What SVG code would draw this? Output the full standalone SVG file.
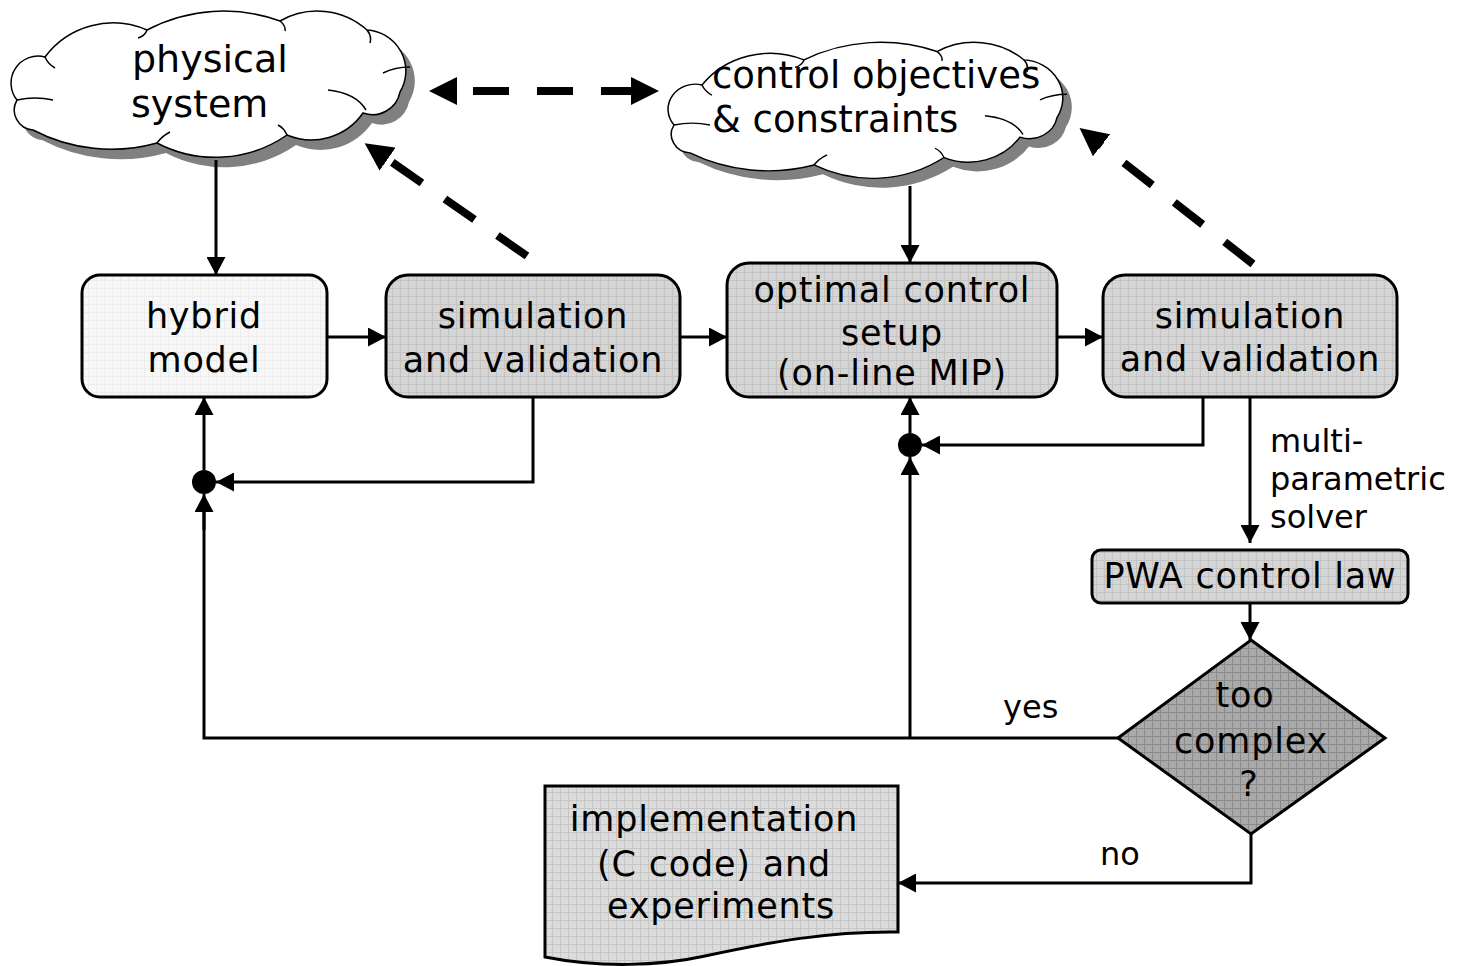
<svg xmlns="http://www.w3.org/2000/svg" xmlns:xlink="http://www.w3.org/1999/xlink" width="1464" height="966" viewBox="0 0 1464 966">
<style>
.t{font-family:"DejaVu Sans","Liberation Sans",sans-serif;fill:#000;}
.bt{font-size:35px;text-anchor:middle;letter-spacing:0.8px;}
.ct{font-size:37px;}
.lt{font-size:32px;}
.box{stroke:#000;stroke-width:3;}
.ln{fill:none;stroke:#000;stroke-width:3;}
.arr{marker-end:url(#ah);}
.dash{fill:none;stroke:#000;stroke-width:8;stroke-dasharray:36 28;marker-end:url(#dh);}
.cl{fill:#fff;stroke:#000;stroke-width:1.5;}
.cs{fill:#808080;}
.ci{fill:none;stroke:#000;stroke-width:1.5;}
</style>
<defs>
<pattern id="gL" width="8" height="8" patternUnits="userSpaceOnUse"><rect width="8" height="8" fill="#d5d5d5"/><path d="M0 0.5H8M0.5 0V8" stroke="#c3c3c3" stroke-width="1"/></pattern>
<pattern id="gH" width="8" height="8" patternUnits="userSpaceOnUse"><rect width="8" height="8" fill="#f7f7f7"/><path d="M0 0.5H8M0.5 0V8" stroke="#ededed" stroke-width="1"/></pattern>
<pattern id="gD" width="8" height="8" patternUnits="userSpaceOnUse"><rect width="8" height="8" fill="#a9a9a9"/><path d="M0 0.5H8M0.5 0V8" stroke="#8a8a8a" stroke-width="1"/></pattern>
<pattern id="gI" width="8" height="8" patternUnits="userSpaceOnUse"><rect width="8" height="8" fill="#dcdcdc"/><path d="M0 0.5H8M0.5 0V8" stroke="#c6c6c6" stroke-width="1"/></pattern>
<marker id="ah" markerUnits="userSpaceOnUse" markerWidth="19" markerHeight="19" refX="18" refY="9.5" orient="auto"><path d="M0,0 L18,9.5 L0,19 Z" fill="#000"/></marker>
<marker id="dh" markerUnits="userSpaceOnUse" markerWidth="30" markerHeight="28" refX="2" refY="14" orient="auto"><path d="M0,0 L28,14 L0,28 Z" fill="#000"/></marker>
<marker id="dhs" markerUnits="userSpaceOnUse" markerWidth="30" markerHeight="28" refX="2" refY="14" orient="auto-start-reverse"><path d="M0,0 L28,14 L0,28 Z" fill="#000"/></marker>
<path id="cloud" d="M17,100 A27,27 0 0 1 45,57 A85,85 0 0 1 147,30 A165,165 0 0 1 280,21 A75,75 0 0 1 367,30 A41,41 0 0 1 400,92 A28,28 0 0 1 363,113 A63,63 0 0 1 287,135 A126,126 0 0 1 157,143 A169,169 0 0 1 33,130 A20,20 0 0 1 17,100 Z"/>
<path id="cloudIn" d="M17,100 Q35,96 53,100 M45,57 Q48,64 55,68 M147,30 Q145,36 138,38 M280,21 Q286,26 285,31 M367,30 Q372,36 370,43 M410,67 Q395,67 383,73 M328,90 Q356,93 366,110 M157,143 Q162,136 170,132 M287,135 Q284,128 278,125"/>
</defs>
<rect width="1464" height="966" fill="#fff"/>

<g id="physical-system">
<use xlink:href="#cloud" class="cs" transform="translate(9,10)"/>
<use xlink:href="#cloud" class="cl"/>
<use xlink:href="#cloudIn" class="ci"/>
<text class="t" font-size="38" x="132" y="72">physical</text>
<text class="t" font-size="38" x="131" y="117">system</text>
</g>

<g id="control-objectives">
<g transform="translate(657,32) scale(1,0.93)">
<use xlink:href="#cloud" class="cs" transform="translate(9,10)"/>
<use xlink:href="#cloud" class="cl"/>
<use xlink:href="#cloudIn" class="ci"/>
</g>
<text class="t ct" x="712" y="88">control objectives</text>
<text class="t ct" x="712" y="132">&amp; constraints</text>
</g>

<g id="connectors">
<path class="ln arr" d="M216,160 V275"/>
<path class="ln arr" d="M327,337 H386"/>
<path class="ln arr" d="M680,337 H727"/>
<path class="ln arr" d="M1057,337 H1103"/>
<path class="ln arr" d="M910,186 V263"/>
<path class="ln arr" d="M533,397 V482 H216"/>
<path class="ln arr" d="M204,470 V397"/>
<path class="ln" d="M1118,738 H204 V510"/>
<path class="ln arr" d="M204,530 V494"/>
<path class="ln arr" d="M910,738 V457"/>
<path class="ln arr" d="M1203,397 V445 H922"/>
<path class="ln arr" d="M910,433 V397"/>
<path class="ln arr" d="M1250,397 V543"/>
<path class="ln arr" d="M1250,604 V640"/>
<path class="ln arr" d="M1251,833 V883 H898"/>
<circle cx="204" cy="482" r="12" fill="#000"/>
<circle cx="910" cy="445" r="12" fill="#000"/>
<path class="dash" d="M455,91 H633" style="marker-start:url(#dhs);stroke-dashoffset:46"/>
<path class="dash" d="M527,256 L386,158"/>
<path class="dash" d="M1253,264 L1100,144"/>
<text class="t lt" x="1270" y="452">multi-</text>
<text class="t lt" x="1270" y="490">parametric</text>
<text class="t lt" x="1270" y="528">solver</text>
<text class="t lt" x="1003" y="718">yes</text>
<text class="t lt" x="1100" y="865">no</text>
</g>

<g id="hybrid-model">
<rect class="box" x="82" y="275" width="245" height="122" rx="18" fill="url(#gH)"/>
<text class="t bt" x="204" y="328">hybrid</text>
<text class="t bt" x="204" y="372">model</text>
</g>

<g id="simulation-1">
<rect class="box" x="386" y="275" width="294" height="122" rx="22" fill="url(#gL)"/>
<text class="t bt" x="533" y="328">simulation</text>
<text class="t bt" x="533" y="372">and validation</text>
</g>

<g id="optimal-control">
<rect class="box" x="727" y="263" width="330" height="134" rx="22" fill="url(#gL)"/>
<text class="t bt" x="892" y="302">optimal control</text>
<text class="t bt" x="892" y="345">setup</text>
<text class="t bt" x="892" y="385" font-size="32">(on-line MIP)</text>
</g>

<g id="simulation-2">
<rect class="box" x="1103" y="275" width="294" height="122" rx="22" fill="url(#gL)"/>
<text class="t bt" x="1250" y="328">simulation</text>
<text class="t bt" x="1250" y="371">and validation</text>
</g>

<g id="pwa-control-law">
<rect class="box" x="1092" y="550" width="316" height="53" rx="9" fill="url(#gL)"/>
<text class="t bt" x="1250" y="588">PWA control law</text>
</g>

<g id="too-complex">
<path class="box" d="M1251,640 L1385,738 L1251,834 L1118,738 Z" fill="url(#gD)"/>
<text class="t bt" x="1245" y="707">too</text>
<text class="t bt" x="1251" y="753">complex</text>
<text class="t bt" x="1249" y="796">?</text>
</g>

<g id="implementation">
<path class="box" d="M545,786 H898 V932 C830,931 770,942 705,956 C660,966 600,968 545,957 Z" fill="url(#gI)"/>
<text class="t bt" x="714" y="831">implementation</text>
<text class="t bt" x="714" y="876">(C code) and</text>
<text class="t bt" x="721" y="918">experiments</text>
</g>
</svg>
